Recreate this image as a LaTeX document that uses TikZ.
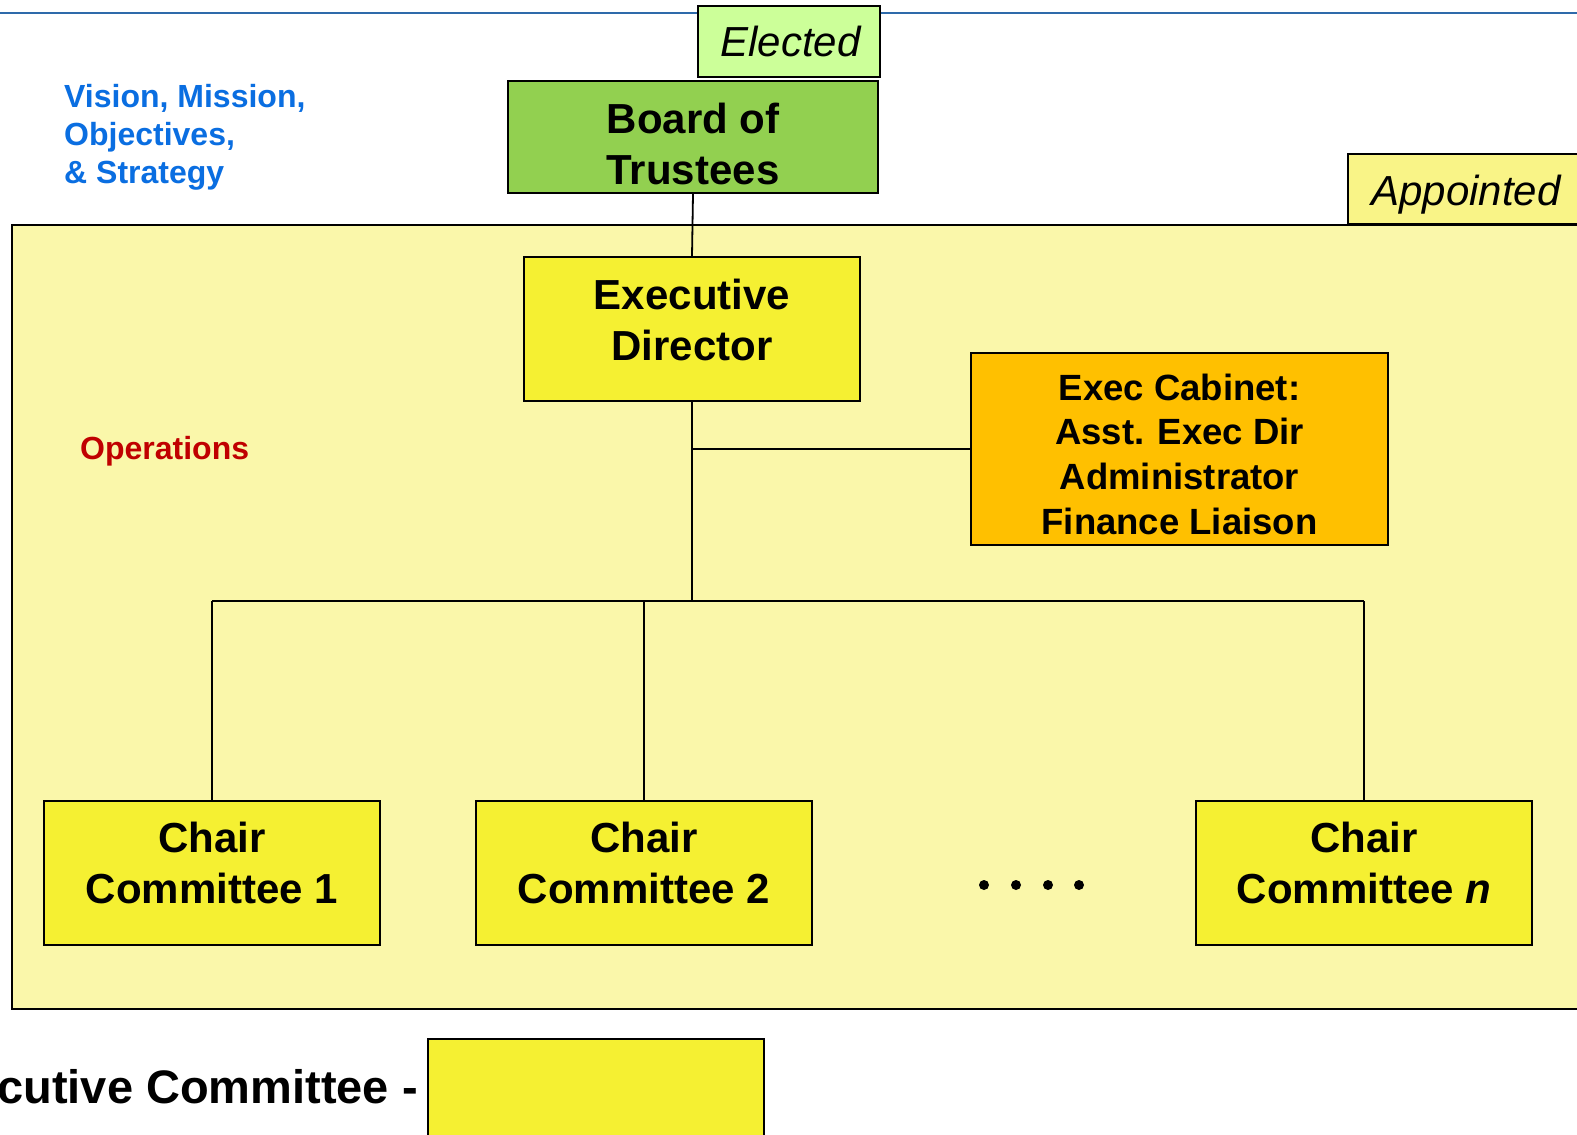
\documentclass[tikz,border=0pt]{standalone}
\usepackage{fontspec}
\setmainfont{Liberation Sans}
\definecolor{areaY}{RGB}{250,247,170}
\definecolor{boxY}{RGB}{245,240,50}
\definecolor{apptY}{RGB}{249,244,135}
\definecolor{electG}{RGB}{204,255,153}
\definecolor{boardG}{RGB}{146,208,80}
\definecolor{cabO}{RGB}{255,192,0}
\definecolor{visB}{RGB}{10,110,225}
\definecolor{opR}{RGB}{192,0,0}
\definecolor{lineB}{RGB}{46,106,170}
\tikzset{
  box/.style={draw=black, line width=1.6pt, inner sep=0pt, align=center},
  txt/.style={inner sep=0pt, align=center},
  bigtxt/.style={txt, font=\fontsize{42}{51}\selectfont\bfseries},
  cabtxt/.style={txt, font=\fontsize{36.5}{44.7}\selectfont\bfseries},
  itxt/.style={font=\fontsize{42}{50}\selectfont\itshape},
  conn/.style={line width=1.8pt, draw=black}
}
\begin{document}
\begin{tikzpicture}[x=1pt,y=-1pt]
\useasboundingbox (0,0) rectangle (1577,1135);
\clip (0,0) rectangle (1577,1135);
\fill[white] (0,0) rectangle (1577,1135);
% top blue line
\coordinate (bl0) at (0,13);
\coordinate (bl1) at (1577,13);
\draw[lineB, line width=2.4pt] (bl0) -- (bl1);
% operations area
\draw[fill=areaY, line width=1.6pt] (12,225) rectangle (1600,1009);
% appointed tab
\draw[fill=apptY, line width=1.6pt] (1348,154) rectangle (1600,224);
\node[itxt, inner sep=0pt] (appt) at (1466,195) {Appointed};
% elected
\node[box, fill=electG, itxt, minimum width=182pt, minimum height=71pt] (elect) at (789,41.5) {\hspace*{3pt}Elected};
% board
\node[box, fill=boardG, minimum width=370pt, minimum height=112pt] (board) at (693,137) {};
\node[bigtxt] (boardT) at ([yshift=-7pt]board.center) {Board of\\Trustees};
% labels
\node[anchor=west, inner sep=0pt, align=left, text=visB, font=\fontsize{32}{38}\selectfont\bfseries] (vis) at (64,137.5) {Vision, Mission,\\Objectives,\\\& Strategy};
\node[anchor=west, inner sep=0pt, text=opR, font=\fontsize{32}{38}\selectfont\bfseries] (ops) at (80,451) {Operations};
% executive director
\node[box, fill=boxY, minimum width=336pt, minimum height=144pt] (ed) at (692,329) {};
\node[bigtxt] (edT) at ([yshift=9.5pt]ed.center) {Executive\\Director};
% cabinet
\node[box, fill=cabO, minimum width=417pt, minimum height=192pt] (cab) at (1179.5,449) {};
\node[cabtxt] (cabT) at ([yshift=-5pt]cab.center) {Exec Cabinet:\\Asst. Exec Dir\\Administrator\\Finance Liaison};
% chairs
\node[box, fill=boxY, minimum width=336pt, minimum height=144pt] (c1) at (212,873) {};
\node[box, fill=boxY, minimum width=336pt, minimum height=144pt] (c2) at (644,873) {};
\node[box, fill=boxY, minimum width=336pt, minimum height=144pt] (cn) at (1364,873) {};
\node[bigtxt] (c1T) at ([yshift=10pt]c1.center) {Chair\\Committee 1};
\node[bigtxt] (c2T) at ([yshift=10pt]c2.center) {Chair\\Committee 2};
\node[bigtxt] (cnT) at ([yshift=10pt]cn.center) {Chair\\Committee \textit{n}};
% dots
\foreach \i/\x in {1/984,2/1016,3/1048,4/1079}{
  \fill (\x,885) circle (5pt);
}
% connectors
\coordinate (bus) at (692,601);
\draw[conn] (board.south) -- (ed.north);
\draw[conn] (ed.south) -- (bus);
\draw[conn] (ed.south |- cab.west) -- (cab.west);
\draw[conn] (c1.north |- bus) -- (cn.north |- bus);
\draw[conn] (c1.north |- bus) -- (c1.north);
\draw[conn] (c2.north |- bus) -- (c2.north);
\draw[conn] (cn.north |- bus) -- (cn.north);
% bottom legend
\node[anchor=east, inner sep=0pt, font=\fontsize{47}{56}\selectfont\bfseries] (exc) at (418,1087) {Executive Committee -};
\draw[fill=boxY, line width=1.6pt] (428,1160) -- (428,1039) -- (764,1039) -- (764,1160);
\end{tikzpicture}
\end{document}
